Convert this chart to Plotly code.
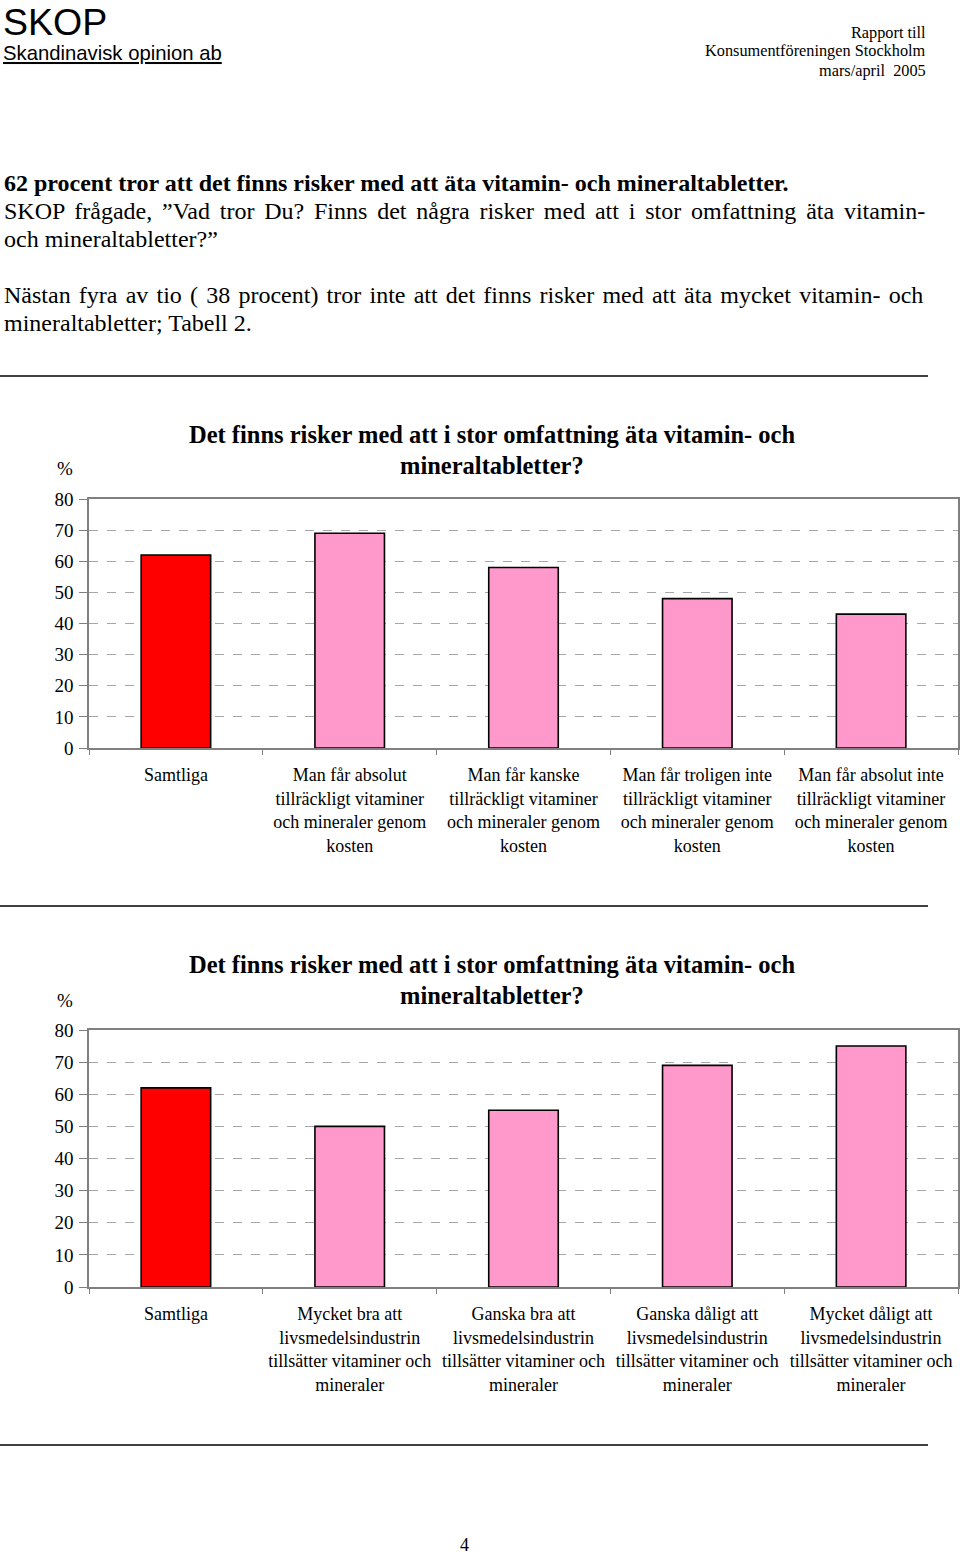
import plotly.graph_objects as go

W, H = 960, 1557

categories_1 = [
    "Samtliga",
    "Man får absolut<br>tillräckligt vitaminer<br>och mineraler genom<br>kosten",
    "Man får kanske<br>tillräckligt vitaminer<br>och mineraler genom<br>kosten",
    "Man får troligen inte<br>tillräckligt vitaminer<br>och mineraler genom<br>kosten",
    "Man får absolut inte<br>tillräckligt vitaminer<br>och mineraler genom<br>kosten",
]
values_1 = [62, 69, 58, 48, 43]

categories_2 = [
    "Samtliga",
    "Mycket bra att<br>livsmedelsindustrin<br>tillsätter vitaminer och<br>mineraler",
    "Ganska bra att<br>livsmedelsindustrin<br>tillsätter vitaminer och<br>mineraler",
    "Ganska dåligt att<br>livsmedelsindustrin<br>tillsätter vitaminer och<br>mineraler",
    "Mycket dåligt att<br>livsmedelsindustrin<br>tillsätter vitaminer och<br>mineraler",
]
values_2 = [62, 50, 55, 69, 75]

y_ticks = [0, 10, 20, 30, 40, 50, 60, 70, 80]
chart_title_lines = ["Det finns risker med att i stor omfattning äta vitamin- och",
                     "mineraltabletter?"]

RED = "#FF0000"
PINK = "#FF99CC"
SERIF = "Liberation Serif, Times New Roman, serif"
SANS = "Liberation Sans, Arial, sans-serif"


def px(x):
    return x / W


def py(y):
    return 1 - y / H


fig = go.Figure()

for i, (cats, vals) in enumerate([(categories_1, values_1), (categories_2, values_2)]):
    xa = "x" if i == 0 else "x2"
    ya = "y" if i == 0 else "y2"
    colors = [RED] + [PINK] * (len(vals) - 1)
    fig.add_trace(go.Bar(
        x=list(range(len(cats))), y=vals, xaxis=xa, yaxis=ya,
        marker=dict(color=colors, line=dict(color="#000000", width=1.6)),
        width=0.4, showlegend=False, hoverinfo="skip",
    ))

x_dom = [px(89), px(958)]
axis_common_x = dict(
    domain=x_dom, range=[-0.5, 4.5], tickmode="array",
    showline=True, linecolor="#808080", linewidth=1.5, mirror=True,
    ticks="", showgrid=False, zeroline=False, automargin=False,
    tickfont=dict(family=SERIF, size=18, color="#000000"),
    ticklabelstandoff=10,
    minor=dict(tickmode="array", tickvals=[-0.5, 0.5, 1.5, 2.5, 3.5, 4.5],
               ticks="outside", ticklen=5, tickcolor="#808080",
               tickwidth=1, showgrid=False),
)
axis_common_y = dict(
    range=[0, 80], tickmode="array", tickvals=y_ticks,
    ticktext=[str(v) for v in y_ticks],
    showline=True, linecolor="#808080", linewidth=1.5, mirror=True,
    ticks="outside", ticklen=8, tickcolor="#808080", tickwidth=1,
    showgrid=True, gridcolor="#A6A6A6", griddash="dash", gridwidth=1,
    zeroline=False, ticklabelstandoff=2, automargin=False,
    tickfont=dict(family=SERIF, size=19, color="#000000"),
)

fig.update_layout(
    width=W, height=H,
    margin=dict(l=0, r=0, t=0, b=0, pad=0, autoexpand=False),
    paper_bgcolor="white", plot_bgcolor="white",
    xaxis=dict(axis_common_x, anchor="y",
               tickvals=list(range(5)), ticktext=categories_1),
    yaxis=dict(axis_common_y, anchor="x", domain=[py(748), py(499)]),
    xaxis2=dict(axis_common_x, anchor="y2",
                tickvals=list(range(5)), ticktext=categories_2),
    yaxis2=dict(axis_common_y, anchor="x2", domain=[py(1287), py(1030)]),
)

ann = []


def text(x, y, t, size, family=SERIF, xanchor="left", bold=False):
    if bold:
        t = "<b>" + t + "</b>"
    ann.append(dict(x=px(x), y=py(y), xref="paper", yref="paper", text=t,
                    showarrow=False, xanchor=xanchor, yanchor="middle",
                    borderpad=0, borderwidth=0,
                    font=dict(family=family, size=size, color="#000000")))


# header
text(3, 22, "SKOP", 37.5, family=SANS)
text(3, 53, "<u>Skandinavisk opinion ab</u>", 20.3, family=SANS)
text(926, 32, "Rapport till", 16.3, xanchor="right")
text(926, 51, "Konsumentföreningen Stockholm", 16.3, xanchor="right")
text(926, 70, "mars/april&nbsp; 2005", 16.3, xanchor="right")

# body
text(4, 183, "62 procent tror att det finns risker med att äta vitamin- och mineraltabletter.", 24, bold=True)
text(4, 211, '<span style="word-spacing:3.8px">SKOP frågade, ”Vad tror Du? Finns det några risker med att i stor omfattning äta vitamin-</span>', 24)
text(4, 239, "och mineraltabletter?”", 24)
text(4, 295, '<span style="word-spacing:2.2px">Nästan fyra av tio ( 38 procent) tror inte att det finns risker med att äta mycket vitamin- och</span>', 24)
text(4, 323, "mineraltabletter; Tabell 2.", 24)

# chart titles and % labels
for (y1, y2, yp) in [(434, 465, 469), (964, 995, 1000)]:
    text(492, y1, chart_title_lines[0], 24.5, xanchor="center", bold=True)
    text(492, y2, chart_title_lines[1], 24.5, xanchor="center", bold=True)
    text(65, yp, "%", 19, xanchor="center")

# page number
text(464, 1545, "4", 18, xanchor="center")

fig.update_layout(annotations=ann)

shapes = []
for yl in [376, 906, 1445]:
    shapes.append(dict(type="line", xref="paper", yref="paper",
                       x0=0, x1=px(928), y0=py(yl), y1=py(yl),
                       line=dict(color="#404040", width=1.8)))
fig.update_layout(shapes=shapes)

fig.write_html("out.html",
               config={"displayModeBar": False},
               post_script="document.body.style.margin='0px'; document.body.style.overflow='hidden';")
